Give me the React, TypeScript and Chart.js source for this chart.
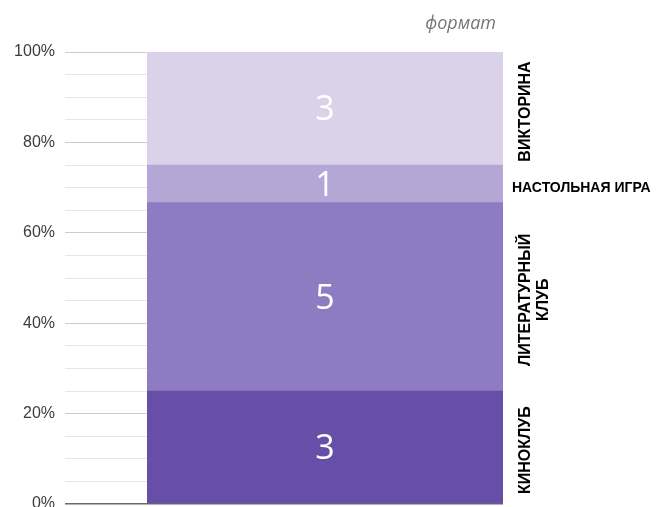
import React, { useEffect, useRef } from "react";
import { Chart, registerables } from "chart.js";

Chart.register(...registerables);

const chartTitle = "формат";
const categories = [""];
const seriesNames = ["КИНОКЛУБ", "ЛИТЕРАТУРНЫЙ КЛУБ", "НАСТОЛЬНАЯ ИГРА", "ВИКТОРИНА"];
const seriesCounts = [3, 5, 1, 3];
const seriesLabelLines = [["КИНОКЛУБ"], ["ЛИТЕРАТУРНЫЙ", "КЛУБ"], ["НАСТОЛЬНАЯ ИГРА"], ["ВИКТОРИНА"]];
const seriesLabelRotated = [true, true, false, true];
const seriesColors = ["#674ea7", "#8e7cc3", "#b4a7d6", "#d9d2e9"];
const yMin = 0;
const yMax = 100;
const yMinorStep = 5;
const yMajorStep = 20;

const total = seriesCounts.reduce((a, b) => a + b, 0);

const labelsPlugin = {
  id: "segmentLabels",
  afterDatasetsDraw(chart: any) {
    const ctx = chart.ctx;
    const area = chart.chartArea;
    ctx.save();
    chart.data.datasets.forEach((ds: any, i: number) => {
      const meta = chart.getDatasetMeta(i);
      const el = meta.data[0];
      if (!el) return;
      const cy = (el.y + el.base) / 2 + 2;
      // value label
      ctx.fillStyle = "#ffffff";
      ctx.font = '34px "Open Sans", sans-serif';
      ctx.textAlign = "center";
      ctx.textBaseline = "middle";
      ctx.fillText(String(seriesCounts[i]), el.x, cy);
      // series name at right
      ctx.fillStyle = "#000000";
      const lines = seriesLabelLines[i];
      if (seriesLabelRotated[i]) {
        ctx.font = 'bold 16px "Liberation Sans", Arial, sans-serif';
        ctx.save();
        ctx.translate(area.right + 23, cy + 1);
        ctx.rotate(-Math.PI / 2);
        ctx.textAlign = "center";
        ctx.textBaseline = "middle";
        lines.forEach((ln, k) => ctx.fillText(ln, 0, k * 18));
        ctx.restore();
      } else {
        ctx.font = 'bold 14px "Liberation Sans", Arial, sans-serif';
        ctx.textAlign = "left";
        ctx.textBaseline = "middle";
        lines.forEach((ln, k) => ctx.fillText(ln, area.right + 9, cy + 2 + k * 16));
      }
    });
    // title
    ctx.fillStyle = "#757575";
    ctx.font = 'italic 18px "Open Sans", sans-serif';
    ctx.textAlign = "right";
    ctx.textBaseline = "alphabetic";
    ctx.fillText(chartTitle, area.right - 7, 29);
    ctx.restore();
  },
};

function gridColor(ctx: any) {
  const v = ctx.tick ? ctx.tick.value : 1;
  if (v === 0) return "#6b6b6b";
  if (v % yMajorStep === 0) return "#cccccc";
  return "#e6e6e6";
}

function gridWidth(ctx: any) {
  const v = ctx.tick ? ctx.tick.value : 1;
  return v === 0 ? 1.5 : 1;
}

export default function App() {
  const ref = useRef<HTMLCanvasElement>(null);
  useEffect(() => {
    if (!ref.current) return;
    const chart = new Chart(ref.current, {
      type: "bar",
      data: {
        labels: categories,
        datasets: seriesNames.map((name, i) => ({
          label: name,
          data: [(seriesCounts[i] / total) * 100],
          backgroundColor: seriesColors[i],
          borderWidth: 0,
          barPercentage: 1,
          categoryPercentage: 1,
        })),
      },
      options: {
        animation: false,
        responsive: false,
        devicePixelRatio: 1,
        layout: { padding: { left: 0, right: 154, top: 52, bottom: 3 } },
        plugins: {
          legend: { display: false },
          tooltip: { enabled: false },
          title: { display: false },
        },
        scales: {
          x: { stacked: true, display: false },
          y: {
            stacked: true,
            min: yMin,
            max: yMax,
            border: { display: false },
            grid: {
              color: gridColor,
              tickColor: gridColor,
              lineWidth: gridWidth,
              tickWidth: gridWidth,
              tickLength: 82,
              drawTicks: true,
            },
            ticks: {
              stepSize: yMinorStep,
              autoSkip: false,
              padding: 10,
              color: "#3c3c3c",
              font: { family: '"Liberation Sans", Arial, sans-serif', size: 16 },
              callback: (v: any) => (Number(v) % yMajorStep === 0 ? v + "%" : ""),
            },
            afterFit: (scale: any) => {
              scale.width = 147;
              scale.paddingTop = 0;
              scale.paddingBottom = 0;
            },
          },
        },
      },
      plugins: [labelsPlugin],
    });
    return () => chart.destroy();
  }, []);
  return (
    <div style={{ position: "fixed", left: 0, top: 0, width: 657, height: 507, background: "#fff" }}>
      <canvas ref={ref} width={657} height={507} style={{ display: "block", width: 657, height: 507 }} />
    </div>
  );
}
